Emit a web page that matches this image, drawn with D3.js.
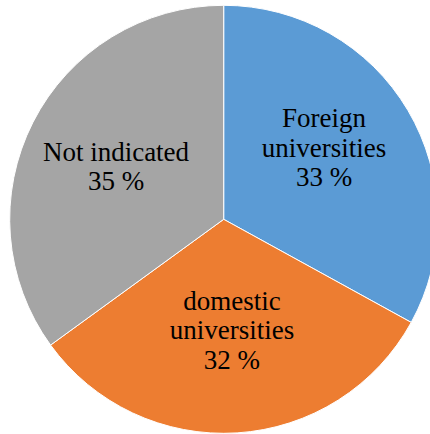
<!DOCTYPE html>
<html><head><meta charset="utf-8">
<script src="https://cdn.jsdelivr.net/npm/d3@7"></script>
</head><body style="margin:0">
<svg id="chart" width="430" height="434"></svg>
<script>
const categories = ["Foreign universities", "domestic universities", "Not indicated"];
const values = [33, 32, 35];
const labelLines = [["Foreign", "universities", "33 %"], ["domestic", "universities", "32 %"], ["Not indicated", "35 %"]];
const colors = ["#5B9BD5", "#ED7D31", "#A5A5A5"];

const svg = d3.select("#chart");
const cx = 223.7, cy = 219.3, R = 214;
const g = svg.append("g").attr("transform", `translate(${cx},${cy})`);
const pie = d3.pie().sort(null).value(d => d)(values);
const arc = d3.arc().innerRadius(0).outerRadius(R);
g.selectAll("path").data(pie).join("path")
  .attr("d", arc).attr("fill", (d, i) => colors[i])
  .attr("stroke", "#fff").attr("stroke-width", 1);

// label placement: centroid on an inner arc plus small layout nudges
const labelArc = d3.arc().innerRadius(R * 0.57).outerRadius(R * 0.57);
const nudges = [[-4.6, -9.2], [0.6, -10.5], [1, 2.6]];
const fs = 27, lh = 29.5;
const rows = [];
pie.forEach((d, i) => {
  const c = labelArc.centroid(d);
  const x = cx + c[0] + nudges[i][0], y = cy + c[1] + nudges[i][1];
  const lines = labelLines[i];
  const start = -(lines.length - 1) / 2 * lh + fs * 0.33;
  lines.forEach((ln, k) => rows.push({ x, y: y + start + k * lh, t: ln }));
});
svg.selectAll("text").data(rows).join("text")
  .attr("x", d => d.x).attr("y", d => d.y)
  .attr("text-anchor", "middle")
  .style("font-family", '"Liberation Serif", monospace')
  .style("font-size", fs + "px")
  .text(d => d.t);
</script>
</body></html>
